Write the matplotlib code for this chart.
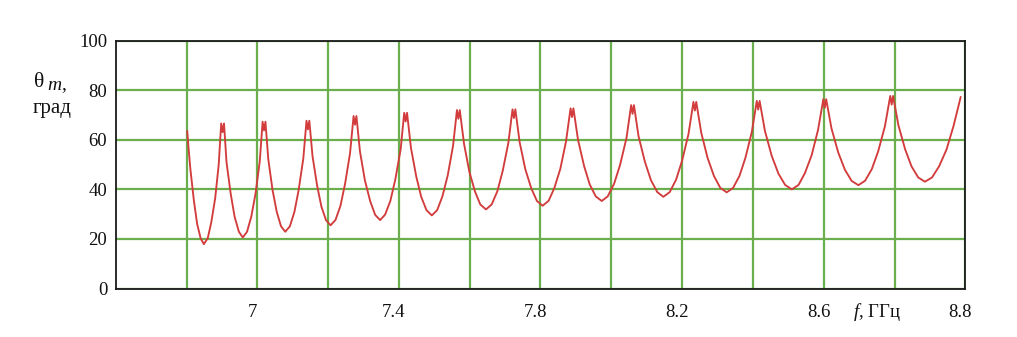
import matplotlib
matplotlib.use("Agg")
import matplotlib.pyplot as plt
from matplotlib.transforms import ScaledTranslation

# ---------------- data ----------------
freq_ghz = [
    6.802, 6.806, 6.811, 6.821, 6.830, 6.840, 6.849,
    6.860, 6.870, 6.881, 6.891, 6.898, 6.902, 6.906,
    6.913, 6.925, 6.936, 6.948, 6.959,
    6.971, 6.983, 6.995, 7.007, 7.015, 7.019, 7.023,
    7.031, 7.043, 7.055, 7.067, 7.079,
    7.092, 7.105, 7.117, 7.130, 7.139, 7.143, 7.147,
    7.156, 7.169, 7.181, 7.194, 7.207,
    7.221, 7.235, 7.248, 7.262, 7.272, 7.276, 7.280,
    7.290, 7.304, 7.319, 7.333, 7.347,
    7.361, 7.376, 7.390, 7.405, 7.415, 7.419, 7.423,
    7.434, 7.449, 7.463, 7.478, 7.493,
    7.508, 7.523, 7.538, 7.553, 7.564, 7.568, 7.572,
    7.584, 7.599, 7.615, 7.630, 7.646,
    7.662, 7.678, 7.693, 7.709, 7.721, 7.725, 7.729,
    7.741, 7.757, 7.774, 7.790, 7.806,
    7.823, 7.839, 7.856, 7.872, 7.885, 7.889, 7.893,
    7.906, 7.923, 7.939, 7.956, 7.973,
    7.990, 8.008, 8.025, 8.043, 8.056, 8.060, 8.064,
    8.077, 8.095, 8.112, 8.130, 8.147,
    8.165, 8.183, 8.200, 8.218, 8.232, 8.236, 8.240,
    8.254, 8.272, 8.290, 8.308, 8.326,
    8.344, 8.362, 8.379, 8.397, 8.411, 8.415, 8.419,
    8.434, 8.453, 8.472, 8.491, 8.510,
    8.529, 8.547, 8.566, 8.584, 8.599, 8.603, 8.607,
    8.622, 8.641, 8.660, 8.679, 8.698,
    8.717, 8.736, 8.754, 8.773, 8.788, 8.792, 8.796,
    8.811, 8.830, 8.848, 8.867, 8.886,
    8.906, 8.926, 8.947, 8.967, 8.987,
]
theta_deg = [
    63.6, 56.3, 48.1, 35.3, 26.1, 20.2, 17.9,
    20.3, 26.7, 36.4, 50.0, 66.6, 63.1, 66.6,
    51.0, 38.1, 28.9, 22.9, 20.6,
    22.9, 29.0, 38.3, 51.4, 67.3, 63.8, 67.3,
    52.2, 39.8, 30.9, 25.1, 22.9,
    25.1, 31.0, 39.9, 52.5, 67.7, 64.2, 67.7,
    53.4, 41.5, 33.1, 27.6, 25.5,
    27.7, 33.4, 42.3, 54.6, 69.6, 66.1, 69.6,
    55.3, 43.6, 35.2, 29.7, 27.6,
    29.8, 35.4, 44.1, 56.2, 70.9, 67.4, 70.9,
    56.8, 45.2, 37.0, 31.6, 29.5,
    31.6, 37.2, 45.7, 57.6, 72.0, 68.5, 72.0,
    58.4, 47.1, 39.1, 33.9, 31.9,
    33.9, 39.2, 47.3, 58.6, 72.3, 68.8, 72.3,
    59.1, 48.2, 40.4, 35.3, 33.4,
    35.4, 40.5, 48.3, 59.3, 72.7, 69.2, 72.7,
    60.0, 49.5, 42.0, 37.2, 35.3,
    37.2, 42.3, 50.0, 60.8, 74.0, 70.5, 74.0,
    61.4, 51.1, 43.7, 38.9, 37.0,
    38.9, 43.9, 51.6, 62.3, 75.3, 71.8, 75.3,
    62.9, 52.7, 45.4, 40.6, 38.8,
    40.6, 45.4, 52.8, 63.2, 75.7, 72.2, 75.7,
    63.6, 53.6, 46.4, 41.8, 40.0,
    41.8, 46.6, 53.8, 64.0, 76.4, 72.9, 76.4,
    64.6, 54.9, 47.9, 43.4, 41.7,
    43.5, 48.2, 55.4, 65.5, 77.7, 74.2, 77.7,
    65.9, 56.2, 49.3, 44.8, 43.1,
    44.8, 49.3, 56.1, 65.7, 77.3,
]

x_grid = [6.8, 7.0, 7.2, 7.4, 7.6, 7.8, 8.0, 8.2, 8.4, 8.6, 8.8, 9.0]
x_tick_labels = ["", "7", "", "7.4", "", "7.8", "", "8.2", "", "8.6", "", "8.8"]
y_ticks = [0, 20, 40, 60, 80, 100]
y_tick_labels = ["0", "20", "40", "60", "80", "100"]

# ---------------- style ----------------
plt.rcParams["font.family"] = ["Liberation Serif", "DejaVu Serif"]
plt.rcParams["mathtext.fontset"] = "custom"
plt.rcParams["mathtext.rm"] = "Liberation Serif"
plt.rcParams["mathtext.it"] = "Liberation Serif:italic"

W, H = 1017, 337
fig = plt.figure(figsize=(W / 100, H / 100), dpi=100)
fig.patch.set_facecolor("white")

ax_l, ax_r, ax_t, ax_b = 115.7, 965.3, 40.7, 288.5
ax = fig.add_axes([ax_l / W, 1 - ax_b / H, (ax_r - ax_l) / W, (ax_b - ax_t) / H])

ax.plot(freq_ghz, theta_deg, color="#d23c3c", lw=1.35, zorder=3,
        solid_joinstyle="round", solid_capstyle="round")

ax.set_xlim(6.6, 9.0)
ax.set_ylim(0, 100)
ax.set_xticks(x_grid)
ax.set_xticklabels(x_tick_labels)
ax.set_yticks(y_ticks)
ax.set_yticklabels(y_tick_labels)

ax.grid(True, color="#6aae4e", lw=1.6, zorder=1)
ax.set_axisbelow(True)
for s in ax.spines.values():
    s.set_color("#1a1a1a")
    s.set_linewidth(1.3)
    s.set_zorder(4)

ax.tick_params(axis="both", length=0, labelsize=13.5, colors="#111111")
ax.tick_params(axis="x", pad=11)
ax.tick_params(axis="y", pad=6)

# shift x tick labels slightly left like the reference
offset = ScaledTranslation(-5 / 100, 0, fig.dpi_scale_trans)
for lab in ax.get_xticklabels():
    lab.set_transform(lab.get_transform() + offset)

# axis labels
fig.text(877 / W, 1 - 312 / H, "$f$, ГГц", fontsize=13.5, ha="center",
         va="center", color="#111111")
fig.text(34 / W, 1 - 87 / H, "θ", fontsize=15.5, ha="left", va="baseline",
         color="#111111")
fig.text(47 / W, 1 - 90 / H, "$m$,", fontsize=14, ha="left", va="baseline",
         color="#111111")
fig.text(33 / W, 1 - 113 / H, "град", fontsize=15, ha="left", va="baseline",
         color="#111111")

fig.savefig("out.png", dpi=100, facecolor="white")
